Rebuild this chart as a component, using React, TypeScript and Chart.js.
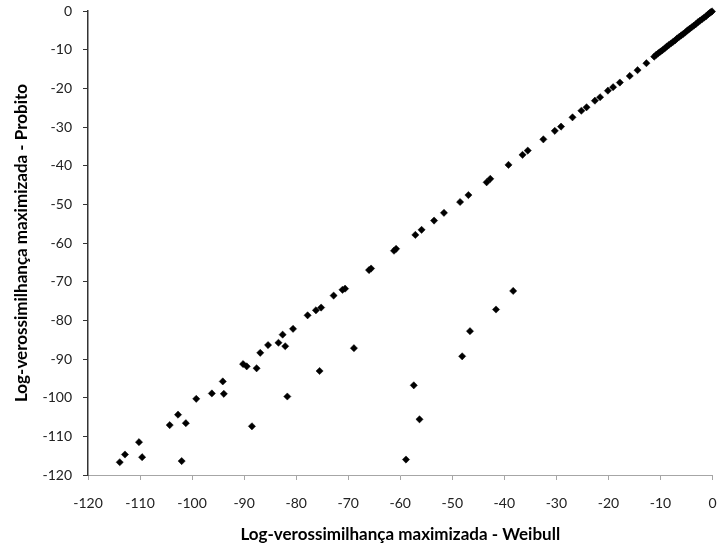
import React, { useEffect, useRef } from "react";
import { Chart, registerables } from "chart.js";

Chart.register(...registerables);

const weibull: number[] = [
  -113.9, -112.9, -110.2, -109.6, -104.3, -102.7, -101.2, -102.0, -99.2, -96.2,
  -94.1, -93.9, -90.2, -89.5, -88.5, -87.6, -86.9, -85.4, -83.4, -82.6,
  -82.1, -81.7, -80.6, -77.8, -76.2, -75.2, -75.5, -72.8, -71.1, -70.6,
  -68.9, -66.0, -65.6, -58.9, -57.4, -56.3, -48.1, -46.6, -41.6, -38.3,
  -61.2, -60.8, -57.1, -55.9, -53.5, -51.6, -48.5, -46.9, -43.4, -42.7,
  -39.2, -36.5, -35.5, -32.5, -30.3, -29.1, -26.9, -25.2, -24.2, -22.6,
  -21.6, -20.1, -19.1, -17.8, -15.9, -14.4, -12.7,
  -11.2, -10.8, -10.4, -10.0, -9.6, -9.2, -8.8, -8.4, -8.0, -7.6,
  -7.2, -6.8, -6.4, -6.0, -5.6, -5.2, -4.8, -4.4, -4.0, -3.6,
  -3.2, -2.8, -2.4, -2.0, -1.6, -1.2, -0.8, -0.5, -0.3, -0.1,
];

const probito: number[] = [
  -116.7, -114.7, -111.5, -115.4, -107.1, -104.4, -106.6, -116.4, -100.3, -98.9,
  -95.8, -99.0, -91.3, -91.9, -107.4, -92.4, -88.4, -86.4, -85.8, -83.7,
  -86.7, -99.7, -82.2, -78.7, -77.4, -76.7, -93.1, -73.6, -72.1, -71.8,
  -87.2, -67.0, -66.6, -116.0, -96.8, -105.6, -89.3, -82.8, -77.2, -72.4,
  -62.0, -61.5, -57.9, -56.6, -54.2, -52.2, -49.4, -47.6, -44.3, -43.4,
  -39.8, -37.2, -36.1, -33.2, -31.0, -29.9, -27.5, -25.8, -24.9, -23.2,
  -22.3, -20.6, -19.7, -18.5, -16.8, -15.3, -13.5,
  -11.8, -11.3, -10.9, -10.5, -10.1, -9.7, -9.2, -8.8, -8.4, -8.0,
  -7.6, -7.1, -6.7, -6.3, -5.9, -5.5, -5.0, -4.6, -4.2, -3.8,
  -3.4, -2.9, -2.5, -2.1, -1.7, -1.3, -0.8, -0.5, -0.3, -0.1,
];

const xTitle = "Log-verossimilhança maximizada - Weibull";
const yTitle = "Log-verossimilhança maximizada - Probito";
const axisMin = -120;
const axisMax = 0;
const axisStep = 10;

export default function App() {
  const ref = useRef<HTMLCanvasElement | null>(null);

  useEffect(() => {
    if (!ref.current) return;
    const points = weibull.map((x, i) => ({ x, y: probito[i] }));
    const tickFont = { family: "Lato", size: 14 };
    const titleFont = { family: "Lato", size: 17, weight: "bold" as const };
    const chart = new Chart(ref.current, {
      type: "scatter",
      data: {
        datasets: [
          {
            data: points,
            pointStyle: "rectRot",
            pointRadius: 3.6,
            pointBackgroundColor: "#000",
            pointBorderColor: "#000",
            pointBorderWidth: 0.5,
            clip: false,
          } as any,
        ],
      },
      options: {
        animation: false,
        responsive: false,
        layout: { padding: { top: 11, right: 2, left: 0, bottom: 0 } },
        plugins: { legend: { display: false }, tooltip: { enabled: false } },
        scales: {
          x: {
            type: "linear",
            min: axisMin,
            max: axisMax,
            ticks: { stepSize: axisStep, color: "#222", font: tickFont, padding: 15 },
            grid: { drawOnChartArea: false, tickLength: 5, color: "#a6a6a6" },
            border: { color: "#a6a6a6", width: 1 },
            title: { display: true, text: xTitle, color: "#000", font: titleFont, padding: { top: 0, bottom: 4 } },
            afterFit: (s: any) => {
              s.height = 74;
              s.paddingLeft = 0;
              s.paddingRight = 0;
            },
          },
          y: {
            type: "linear",
            min: axisMin,
            max: axisMax,
            ticks: { stepSize: axisStep, color: "#222", font: tickFont, padding: 11 },
            grid: { drawOnChartArea: false, tickLength: 5, color: "#333" },
            border: { color: "#333", width: 1.5 },
            title: { display: true, text: yTitle, color: "#000", font: titleFont, padding: { top: 11, bottom: 0 } },
            afterFit: (s: any) => {
              s.width = 88;
              s.paddingTop = 0;
              s.paddingBottom = 0;
            },
          },
        },
      },
    });
    return () => chart.destroy();
  }, []);

  return (
    <div style={{ position: "absolute", left: 0, top: 0, width: 717, height: 549, background: "#fff" }}>
      <canvas ref={ref} width={717} height={549} />
    </div>
  );
}
